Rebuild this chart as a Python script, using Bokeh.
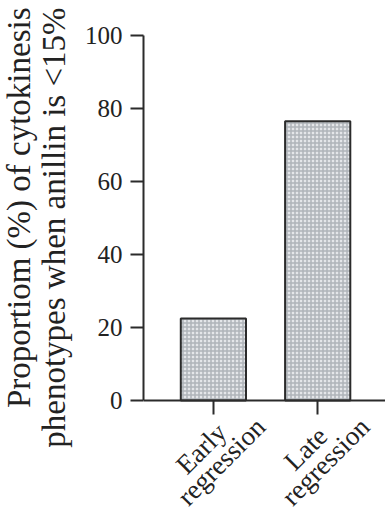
import math
from bokeh.plotting import figure
from bokeh.models import Range1d, FixedTicker, LabelSet, ColumnDataSource, Title
from bokeh.embed import file_html
from bokeh.resources import INLINE

categories = ["Early\nregression", "Late\nregression"]
values = [22.5, 76.5]
y_ticks = [0, 20, 40, 60, 80, 100]
y_title = ["Proportiom (%) of cytokinesis", "phenotypes when anillin is <15%"]

xs = list(range(1, len(categories) + 1))
FONT = "Liberation Serif"
INK = "#2b2b2b"
TXT = "#222222"

# frame extends below y=0 so that the category labels sit inside it
p = figure(width=385, height=510, output_backend="svg", toolbar_location=None,
           x_range=Range1d(0.33, 2.65), y_range=Range1d(-30.1, 100),
           min_border_left=143, min_border_top=35, min_border_bottom=0,
           min_border_right=0)
p.outline_line_color = None
p.xgrid.visible = False
p.ygrid.visible = False

p.vbar(x=xs, top=values, width=0.625, bottom=0,
       fill_color="#e4e6e9", line_color=INK, line_width=2,
       hatch_pattern="cross", hatch_color="#b0b4b9",
       hatch_scale=4, hatch_weight=1.5)

ya = p.yaxis[0]
ya.ticker = FixedTicker(ticks=y_ticks)
ya.bounds = (0, 100)
ya.minor_tick_line_color = None
ya.major_tick_out = 13
ya.major_tick_in = 0
ya.axis_line_width = 2
ya.axis_line_color = INK
ya.major_tick_line_width = 2
ya.major_tick_line_color = INK
ya.major_label_text_font = FONT
ya.major_label_text_font_size = "25px"
ya.major_label_text_color = TXT
ya.major_label_standoff = 8

for line, so in zip(reversed(y_title), (20, -26)):
    p.add_layout(Title(text=line, align="right", offset=-28, standoff=so,
                       text_font=FONT, text_font_size="33px",
                       text_font_style="normal", text_color=TXT), "left")

xa = p.xaxis[0]
xa.fixed_location = 0
xa.ticker = FixedTicker(ticks=xs)
xa.major_label_overrides = {x: "" for x in xs}
xa.minor_tick_line_color = None
xa.major_tick_out = 14
xa.major_tick_in = 0
xa.axis_line_width = 2
xa.axis_line_color = INK
xa.major_tick_line_width = 2
xa.major_tick_line_color = INK

lines = [c.split("\n") for c in categories]
line_offsets = [(-12, -48), (8, -61)]
for i, (dx, dy) in enumerate(line_offsets):
    src = ColumnDataSource(dict(x=xs, y=[0] * len(xs), text=[l[i] for l in lines]))
    p.add_layout(LabelSet(x="x", y="y", text="text", source=src,
                          angle=math.pi / 4, x_offset=dx, y_offset=dy,
                          text_align="center", text_baseline="middle",
                          text_font=FONT, text_font_size="27px", text_color=TXT))

open("out.html", "w").write(file_html(p, INLINE))
